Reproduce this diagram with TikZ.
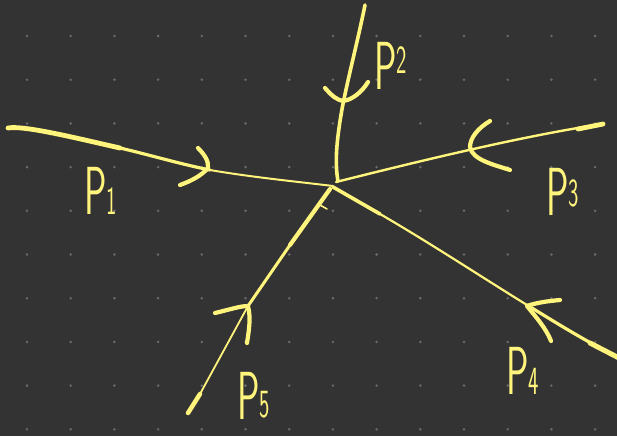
\documentclass[tikz,border=0pt]{standalone}
\definecolor{bgc}{HTML}{333333}
\definecolor{dotc}{HTML}{6A6A6A}
\definecolor{ink}{HTML}{FFF47C}
\newcommand{\lblsub}[2]{\raisebox{#1}{\fontsize{40}{40}\selectfont #2}}
\begin{document}
\begin{tikzpicture}[x=1pt,y=-1pt, line cap=round, line join=round,
  stroke/.style={draw=ink, line width=#1},
  chev/.style={draw=ink, line width=4.2},
  lbl/.style={text=ink, font=\sffamily\fontsize{68}{68}\selectfont, xscale=0.55, inner sep=0pt, anchor=base west}]
\fill[bgc] (0,0) rectangle (617,436);
\useasboundingbox (0,0) rectangle (617,436);
\foreach \i in {0,...,13}{
  \foreach \j in {0,...,9}{
    \fill[dotc] ({27+43.7*\i},{36+43.7*\j}) circle (1.4);
  }
}
% junction ends
\coordinate (O1) at (333,186);
\coordinate (O2) at (338,181);
\coordinate (O3) at (336,182);
\coordinate (O4) at (333,187);
\coordinate (O5) at (330,189);
% P1 line
\coordinate (A1) at (8,128);
\coordinate (p1b) at (120,148);
\coordinate (p1c) at (210,170);
\draw[stroke=4.8] (A1) .. controls (24,125) and (80,139) .. (p1b);
\draw[stroke=3.2] (p1b) .. controls (150,155) and (180,164) .. (p1c);
\draw[stroke=2] (p1c) .. controls (250,177) and (300,182) .. (O1);
% P2 line
\coordinate (A2) at (365,5);
\coordinate (p2b) at (341,115);
\draw[stroke=3.6] (A2) .. controls (358,40) and (345,90) .. (p2b);
\draw[stroke=3.6] (p2b) .. controls (336,145) and (335,165) .. (O2);
% P3 line
\coordinate (A3) at (603,124);
\coordinate (p3b) at (578,129);
\draw[stroke=2.4] (A3) .. controls (520,136) and (400,166) .. (O3);
\draw[stroke=4.8] (A3) -- (p3b);
% P4 line
\coordinate (p4a) at (380,214);
\coordinate (p4b) at (527,305);
\coordinate (A4) at (619,358);
\draw[stroke=3.6] (O4) -- (p4a);
\draw[stroke=2.2] (p4a) .. controls (430,243) and (480,276) .. (p4b);
\draw[stroke=3.2] (p4b) .. controls (555,322) and (580,338) .. (A4);
\coordinate (p4c) at (590,343);
\draw[stroke=5] (p4c) -- (A4);
% P5 line
\coordinate (A5) at (188,413);
\coordinate (p5a) at (200,394);
\coordinate (p5b) at (248,306);
\coordinate (p5c) at (290,245);
\draw[stroke=4.5] (A5) -- (p5a);
\draw[stroke=1.8] (p5a) -- (p5b);
\draw[stroke=3] (p5b) -- (p5c);
\draw[stroke=4.2] (p5c) -- (O5);
\coordinate (t1) at (320,205);
\coordinate (t2) at (327,209);
\draw[stroke=1.6] (t1) -- (t2);
% chevrons
\coordinate (c1a) at (198,148); \coordinate (c1b) at (208,168); \coordinate (c1c) at (180,185);
\draw[chev] (c1a) .. controls (204,154) and (209,161) .. (c1b) .. controls (201,176) and (191,181) .. (c1c);
\coordinate (c2a) at (325,88); \coordinate (c2b) at (343,101); \coordinate (c2c) at (368,82);
\draw[chev] (c2a) .. controls (332,96) and (337,100) .. (c2b) .. controls (352,100) and (362,92) .. (c2c);
\coordinate (c3a) at (490,121); \coordinate (c3b) at (470,147); \coordinate (c3c) at (510,170);
\draw[chev] (c3a) .. controls (478,128) and (470,138) .. (c3b) .. controls (472,160) and (495,165) .. (c3c);
\coordinate (c4a) at (560,300); \coordinate (c4b) at (527,306); \coordinate (c4c) at (551,341);
\draw[chev] (c4a) .. controls (548,301) and (535,303) .. (c4b) .. controls (535,316) and (546,328) .. (c4c);
\coordinate (c5a) at (215,313); \coordinate (c5b) at (248,306); \coordinate (c5c) at (247,343);
\draw[chev] (c5a) .. controls (228,310) and (240,306) .. (c5b) .. controls (251,318) and (249,330) .. (c5c);
% labels
\node[lbl] (L1) at (84,214) {P\lblsub{0pt}{1}};
\node[lbl] (L2) at (374,89) {P\lblsub{16pt}{2}};
\node[lbl] (L3) at (546,215) {P\lblsub{9pt}{3}};
\node[lbl] (L4) at (506,394) {P\lblsub{0pt}{4}};
\node[lbl] (L5) at (237,419) {P\lblsub{2pt}{5}};
\end{tikzpicture}
\end{document}
